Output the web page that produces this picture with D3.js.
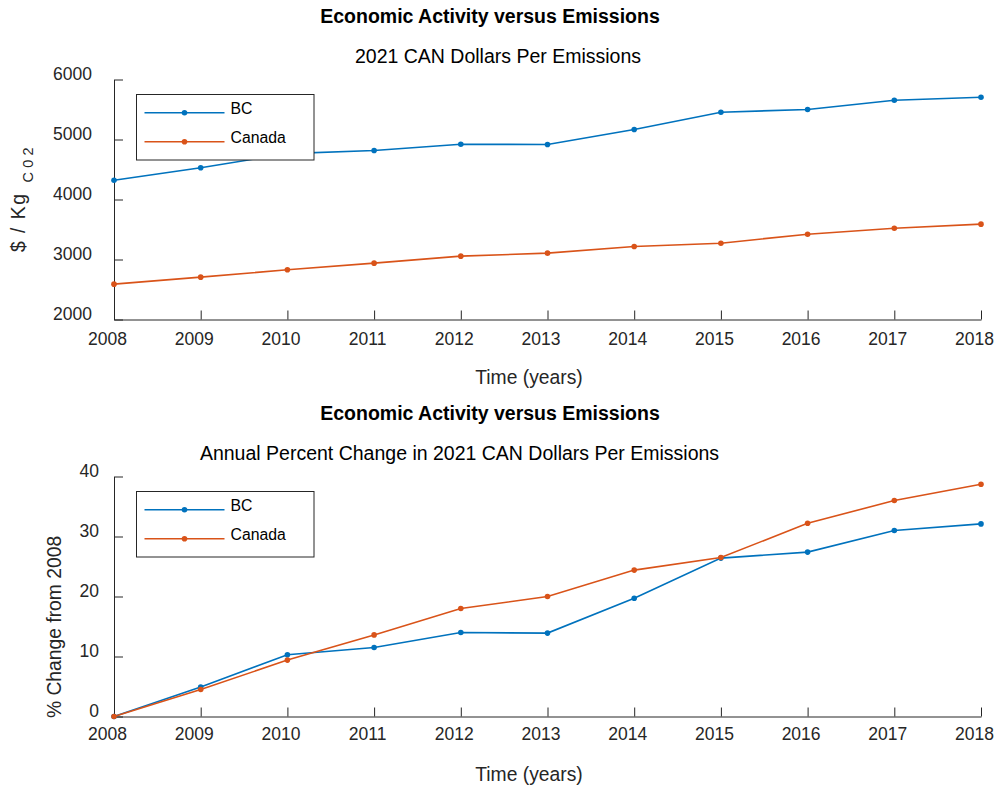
<!DOCTYPE html>
<html>
<head>
<meta charset="utf-8">
<script src="https://cdn.jsdelivr.net/npm/d3@7"></script>
<style>
  html, body { margin: 0; padding: 0; background: #fff; }
  svg text { font-family: "Liberation Sans", Arial, Helvetica, sans-serif; }
</style>
</head>
<body>
<svg id="chart" width="997" height="788"></svg>
<script>
// ---- Data ----
const years = [2008, 2009, 2010, 2011, 2012, 2013, 2014, 2015, 2016, 2017, 2018];
const bcDollars = [4322, 4528, 4765, 4817, 4922, 4917, 5167, 5455, 5500, 5655, 5705];
const canadaDollars = [2589, 2706, 2828, 2939, 3056, 3106, 3217, 3272, 3422, 3522, 3589];
const bcPercent = [0, 4.9, 10.3, 11.5, 14.0, 13.9, 19.7, 26.4, 27.4, 31.0, 32.1];
const canadaPercent = [0, 4.5, 9.4, 13.6, 18.0, 20.0, 24.4, 26.5, 32.2, 36.0, 38.7];
const seriesNames = ["BC", "Canada"];
const seriesColors = ["#0072BD", "#D95319"];
const topYTicks = [2000, 3000, 4000, 5000, 6000];
const bottomYTicks = [0, 10, 20, 30, 40];
const xTicks = years;

const svg = d3.select("#chart");
const axisColor = "#262626";

function drawPanel(cfg) {
  const g = svg.append("g").attr("transform", `translate(0,${cfg.offsetY})`);
  const x = d3.scaleLinear().domain([2008, 2018]).range([114, 981]);
  const y = d3.scaleLinear().domain(cfg.yDomain).range([319.5, 79.5]);

  // titles
  g.append("text").attr("x", 490).attr("y", 23).attr("text-anchor", "middle")
    .attr("font-size", 19.5).attr("font-weight", "bold").attr("fill", "#000")
    .text("Economic Activity versus Emissions");
  g.append("text").attr("x", cfg.subtitleX).attr("y", 62.5).attr("text-anchor", "middle")
    .attr("font-size", 19.5).attr("fill", "#000").text(cfg.subtitle);

  // axes
  const xAxis = d3.axisBottom(x).tickValues(xTicks).tickFormat(d3.format("d"))
    .tickSizeInner(-9).tickSizeOuter(0).tickPadding(cfg.xPad);
  const xg = g.append("g").attr("transform", "translate(0,319.5)").call(xAxis);
  const yAxis = d3.axisLeft(y).tickValues(cfg.yTicks).tickFormat(d3.format("d"))
    .tickSizeInner(-9).tickSizeOuter(0).tickPadding(cfg.yPad);
  const yg = g.append("g").attr("transform", "translate(114,0)").call(yAxis);
  [xg, yg].forEach(a => {
    a.select(".domain").attr("stroke", axisColor).attr("stroke-width", 1);
    a.selectAll(".tick line").attr("stroke", axisColor).attr("stroke-width", 1);
    a.selectAll(".tick text").attr("fill", axisColor).attr("font-size", 17.5)
      .style("font-family", '"Liberation Sans", Arial, sans-serif');
  });
  xg.selectAll(".tick text").attr("dx", -7);
  yg.selectAll(".tick text").attr("dy", "0.0em");

  // x label
  g.append("text").attr("x", 529).attr("y", 384).attr("text-anchor", "middle")
    .attr("font-size", 19.3).attr("fill", axisColor).text("Time (years)");

  // y label
  cfg.yLabel(g);

  // lines
  const line = d3.line().x((d, i) => x(years[i])).y(d => y(d));
  cfg.series.forEach((s, k) => {
    g.append("path").datum(s).attr("d", line).attr("fill", "none")
      .attr("stroke", seriesColors[k]).attr("stroke-width", 1.6);
    g.selectAll(null).data(s).enter().append("circle")
      .attr("cx", (d, i) => x(years[i])).attr("cy", d => y(d)).attr("r", 2.8)
      .attr("fill", seriesColors[k]);
  });

  // legend
  const lg = g.append("g");
  lg.append("rect").attr("x", 136.5).attr("y", 94.5).attr("width", 177.5).attr("height", 65.5)
    .attr("fill", "#fff").attr("stroke", axisColor).attr("stroke-width", 1);
  seriesNames.forEach((name, k) => {
    const ly = 112.7 + k * 29;
    lg.append("line").attr("x1", 144.5).attr("x2", 224.5).attr("y1", ly).attr("y2", ly)
      .attr("stroke", seriesColors[k]).attr("stroke-width", 1.6);
    lg.append("circle").attr("cx", 184.5).attr("cy", ly).attr("r", 2.8).attr("fill", seriesColors[k]);
    lg.append("text").attr("x", 230.5).attr("y", ly + 0.8).attr("font-size", 15.8)
      .attr("fill", "#000").text(name);
  });
}

drawPanel({
  offsetY: 0,
  yDomain: [2000, 6000],
  yTicks: topYTicks,
  subtitle: "2021 CAN Dollars Per Emissions",
  subtitleX: 498,
  xPad: 13,
  yPad: 22,
  series: [bcDollars, canadaDollars],
  yLabel: (g) => {
    g.append("text").attr("transform", "translate(25,223) rotate(-90)")
      .attr("text-anchor", "middle").attr("font-size", 19.3).attr("fill", axisColor)
      .attr("textLength", 58).attr("lengthAdjust", "spacing").text("$ / Kg");
    g.append("text").attr("transform", "translate(33,165) rotate(-90)")
      .attr("text-anchor", "middle").attr("font-size", 14.5).attr("fill", axisColor)
      .attr("textLength", 35).attr("lengthAdjust", "spacing").text("C 0 2");
  }
});

drawPanel({
  offsetY: 397,
  yDomain: [0, 40],
  yTicks: bottomYTicks,
  subtitle: "Annual Percent Change in 2021 CAN Dollars Per Emissions",
  subtitleX: 459.5,
  xPad: 11.5,
  yPad: 15,
  series: [bcPercent, canadaPercent],
  yLabel: (g) => {
    g.append("text").attr("transform", "translate(61,230) rotate(-90)")
      .attr("text-anchor", "middle").attr("font-size", 19.3).attr("fill", axisColor)
      .text("% Change from 2008");
  }
});
</script>
</body>
</html>
